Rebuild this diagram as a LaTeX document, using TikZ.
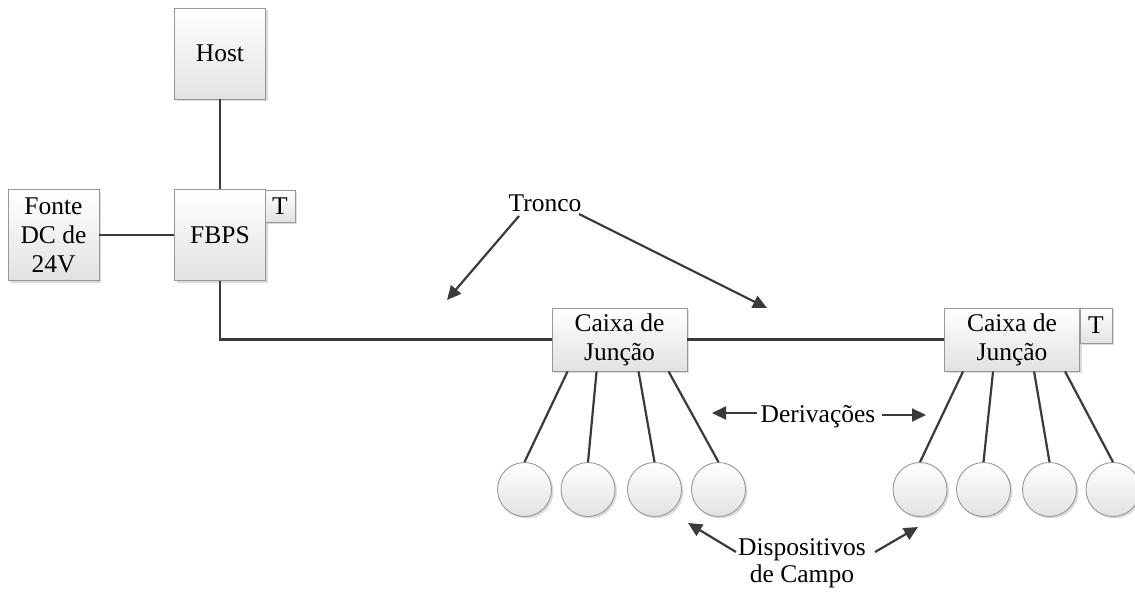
\documentclass[tikz,border=0pt]{standalone}
\usepackage{fontspec}
\setmainfont{Liberation Serif}
\usetikzlibrary{arrows.meta,shadows,calc}
\definecolor{wire}{HTML}{3A3A3A}
\definecolor{edge}{HTML}{979797}
\definecolor{shadecol}{HTML}{E2E2E2}
\begin{document}
\begin{tikzpicture}[x=1pt,y=-1pt,
  every node/.style={font=\fontsize{25.5}{29}\selectfont, text=black},
  box/.style={draw=edge, line width=0.9pt, top color=white, bottom color=shadecol,
    inner sep=0pt, align=center,
    drop shadow={shadow xshift=2pt, shadow yshift=-2pt, fill=black, opacity=0.14}},
  dev/.style={circle, draw=edge, line width=0.9pt, top color=white, bottom color=shadecol,
    minimum size=54pt, inner sep=0pt,
    drop shadow={shadow xshift=2pt, shadow yshift=-2pt, fill=black, opacity=0.14}},
  wireline/.style={draw=wire, line width=2.2pt},
  pointer/.style={draw=wire, line width=2.2pt, -{Triangle[length=14pt,width=13pt]}},
  lbl/.style={inner sep=0pt, align=center}
]
\clip (0,0) rectangle (1135,594);
\useasboundingbox (0,0) rectangle (1135,594);

% equipment boxes
\node[box, minimum width=91pt, minimum height=91pt] (host) at (220,53.5) {Host};
\node[box, minimum width=91pt, minimum height=91pt] (fbps) at (220,235) {FBPS};
\node[box, minimum width=91pt, minimum height=91pt] (fonte) at (53.5,235) {Fonte\\DC de\\24V};
\node[box, minimum width=30pt, minimum height=32pt] (t1) at (280,206) {T};

\node[box, minimum width=135pt, minimum height=63pt] (cj1) at (619.5,339.5) {Caixa de\\Junção};
\node[box, minimum width=135pt, minimum height=63pt] (cj2) at (1012,339.5) {Caixa de\\Junção};
\node[box, minimum width=32pt, minimum height=35pt] (t2) at (1096,325.5) {T};

% field devices
\node[dev] (a1) at (524.5,489.5) {};
\node[dev] (a2) at (588,489.5) {};
\node[dev] (a3) at (654.5,489.5) {};
\node[dev] (a4) at (718.5,489.5) {};
\node[dev] (b1) at (920,489.5) {};
\node[dev] (b2) at (983.5,489.5) {};
\node[dev] (b3) at (1049.5,489.5) {};
\node[dev] (b4) at (1113,489.5) {};

% trunk
\draw[wireline] (host) -- (fbps);
\draw[wireline] (fonte) -- (fbps);
\draw[wireline] (fbps.south) |- (cj1.west);
\draw[wireline] (cj1) -- (cj2);

% spurs
\draw[wireline] ([xshift=16pt]cj1.south west) -- (a1.north);
\draw[wireline] ([xshift=45pt]cj1.south west) -- (a2.north);
\draw[wireline] ([xshift=87pt]cj1.south west) -- (a3.north);
\draw[wireline] ([xshift=117pt]cj1.south west) -- (a4.north);
\draw[wireline] ([xshift=19pt]cj2.south west) -- (b1.north);
\draw[wireline] ([xshift=49pt]cj2.south west) -- (b2.north);
\draw[wireline] ([xshift=90pt]cj2.south west) -- (b3.north);
\draw[wireline] ([xshift=121pt]cj2.south west) -- (b4.north);

% labels
\node[lbl, anchor=base] (tronco) at (545,211) {Tronco};
\node[lbl, anchor=base] (deriv) at (818,422) {Derivações};
\node[lbl, anchor=base] (disp) at (802,555) {Dispositivos};
\node[lbl, anchor=base] (campo) at (802,582) {de Campo};

% label pointers
\coordinate (tl0) at (519,216); \coordinate (tl1) at (447,300);
\coordinate (tr0) at (579,214); \coordinate (tr1) at (767,308);
\coordinate (dl0) at (757,413); \coordinate (dl1) at (712,413);
\coordinate (dr0) at (882,415); \coordinate (dr1) at (926,415);
\coordinate (pl0) at (736,552); \coordinate (pl1) at (688,523);
\coordinate (pr0) at (875,552); \coordinate (pr1) at (918,527);
\draw[pointer] (tl0) -- (tl1);
\draw[pointer] (tr0) -- (tr1);
\draw[pointer] (dl0) -- (dl1);
\draw[pointer] (dr0) -- (dr1);
\draw[pointer] (pl0) -- (pl1);
\draw[pointer] (pr0) -- (pr1);
\end{tikzpicture}
\end{document}
